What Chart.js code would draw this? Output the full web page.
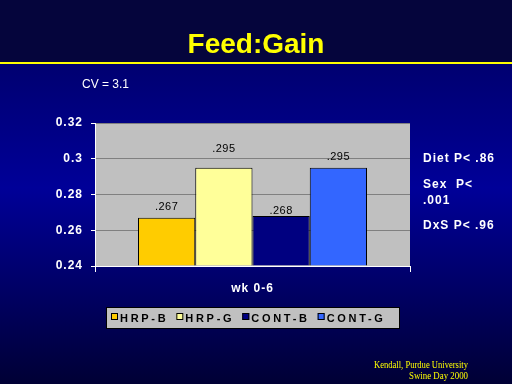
<!DOCTYPE html>
<html>
<head>
<meta charset="utf-8">
<script src="https://cdn.jsdelivr.net/npm/chart.js@4/dist/chart.umd.min.js"></script>
<style>
html,body{margin:0;padding:0;background:#000060;overflow:hidden;}
canvas{display:block;}
</style>
</head>
<body>
<canvas id="c" width="512" height="384"></canvas>
<script>
// ---- data ----
const categories = ['wk 0-6'];
const seriesNames = ['HRP-B', 'HRP-G', 'CONT-B', 'CONT-G'];
const seriesValues = [0.267, 0.295, 0.268, 0.295];
const valueLabels = ['.267', '.295', '.268', '.295'];
const seriesColors = ['#FFCC00', '#FFFF99', '#000080', '#3366FF'];
const yTickLabels = ['0.24', '0.26', '0.28', '0.3', '0.32'];
const yMin = 0.24, yMax = 0.32, yStep = 0.02;
const titleText = 'Feed:Gain';
const cvText = 'CV = 3.1';
const statLines = ['Diet P< .86', 'Sex  P<', '.001', 'DxS P< .96'];
const footerLines = ['Kendall, Purdue University', 'Swine Day 2000'];

const FONT = "'Liberation Sans', Arial, sans-serif";

const decor = {
  id: 'decor',
  beforeDraw(chart) {
    const ctx = chart.ctx, W = chart.width, H = chart.height;
    ctx.save();
    // top band
    ctx.fillStyle = '#05053c';
    ctx.fillRect(0, 0, W, 63);
    const g = ctx.createLinearGradient(0, 63, 0, H);
    g.addColorStop(0, '#000070');
    g.addColorStop(0.39, '#000098');
    g.addColorStop(1, '#000035');
    ctx.fillStyle = g;
    ctx.fillRect(0, 63, W, H - 63);
    // yellow rule
    ctx.fillStyle = '#FFFF00';
    ctx.fillRect(0, 62, W, 2);
    // title
    ctx.fillStyle = '#FFFF00';
    ctx.font = 'bold 28px ' + FONT;
    ctx.textAlign = 'center';
    ctx.textBaseline = 'alphabetic';
    ctx.fillText(titleText, 256, 53);
    // CV
    ctx.fillStyle = '#FFFFFF';
    ctx.font = '12px ' + FONT;
    ctx.textAlign = 'left';
    ctx.fillText(cvText, 82, 88);
    // stats
    ctx.font = 'bold 12px ' + FONT;
    ctx.letterSpacing = '1px';
    const ys = [162, 188, 204, 229];
    statLines.forEach((t, i) => ctx.fillText(t, 423, ys[i]));
    ctx.letterSpacing = '0px';
    // footer
    ctx.fillStyle = '#FFFF00';
    ctx.font = '10px "Liberation Serif", "Times New Roman", serif';
    ctx.textAlign = 'right';
    ctx.fillText(footerLines[0], 468, 368, 94);
    ctx.fillText(footerLines[1], 468, 379, 59);
    // plot area background
    const a = chart.chartArea;
    ctx.fillStyle = '#C0C0C0';
    ctx.fillRect(a.left, a.top, a.right - a.left, a.bottom - a.top);
    ctx.restore();
    ctx.letterSpacing = '1px';
  },
  afterDatasetsDraw(chart, args, opts) {
    const ctx = chart.ctx;
    ctx.save();
    ctx.letterSpacing = '0.5px';
    ctx.font = '11px ' + FONT;
    ctx.fillStyle = '#000000';
    ctx.textAlign = 'center';
    ctx.textBaseline = 'alphabetic';
    chart.data.datasets.forEach((ds, i) => {
      const el = chart.getDatasetMeta(i).data[0];
      ctx.fillText(valueLabels[i], el.x, el.y - opts.labelOffsets[i]);
    });
    ctx.restore();
  },
  afterDraw(chart) {
    const ctx = chart.ctx;
    ctx.save();
    // legend box
    ctx.fillStyle = '#C0C0C0';
    ctx.fillRect(106, 307, 293, 21);
    ctx.strokeStyle = '#000000';
    ctx.lineWidth = 1;
    ctx.strokeRect(106.5, 307.5, 293, 21);
    ctx.font = 'bold 11px ' + FONT;
    ctx.letterSpacing = '2.7px';
    ctx.textBaseline = 'alphabetic';
    ctx.textAlign = 'left';
    let x = 111;
    chart.data.datasets.forEach((ds, i) => {
      ctx.fillStyle = ds.backgroundColor;
      ctx.fillRect(x, 313, 7, 7);
      ctx.strokeStyle = '#000000';
      ctx.strokeRect(x + 0.5, 313.5, 6, 6);
      ctx.fillStyle = '#000000';
      ctx.fillText(ds.label, x + 9, 322);
      x += 9 + ctx.measureText(ds.label).width + 8;
    });
    ctx.restore();
  }
};

const datasets = seriesNames.map((n, i) => ({
  label: n,
  data: [seriesValues[i]],
  backgroundColor: seriesColors[i],
  borderColor: '#000000',
  borderWidth: 1,
  base: yMin,
  categoryPercentage: 0.727,
  barPercentage: 1.0
}));

new Chart(document.getElementById('c'), {
  type: 'bar',
  data: { labels: categories, datasets },
  plugins: [decor],
  options: {
    responsive: false,
    devicePixelRatio: 1,
    animation: false,
    layout: { padding: { top: 123, right: 102, left: 0, bottom: 0 } },
    plugins: {
      legend: { display: false },
      title: { display: false },
      tooltip: { enabled: false },
      decor: { labelOffsets: [8, 16, 2, 8] }
    },
    scales: {
      x: {
        afterFit(s) { s.height = 118; },
        grid: { display: true, drawOnChartArea: false, drawTicks: true, tickLength: 6, tickColor: '#FFFFFF', offset: true },
        border: { color: '#FFFFFF', width: 1 },
        ticks: { color: '#FFFFFF', font: { family: FONT, size: 12, weight: 'bold' }, padding: 9 }
      },
      y: {
        min: yMin, max: yMax,
        afterFit(s) { s.width = 95; },
        grid: { color: '#808080', tickColor: '#FFFFFF', tickLength: 4 },
        border: { color: '#FFFFFF', width: 1 },
        ticks: {
          stepSize: yStep,
          color: '#FFFFFF',
          font: { family: FONT, size: 12, weight: 'bold' },
          padding: 8,
          callback: (v, i) => yTickLabels[i]
        }
      }
    }
  }
});
</script>
</body>
</html>
